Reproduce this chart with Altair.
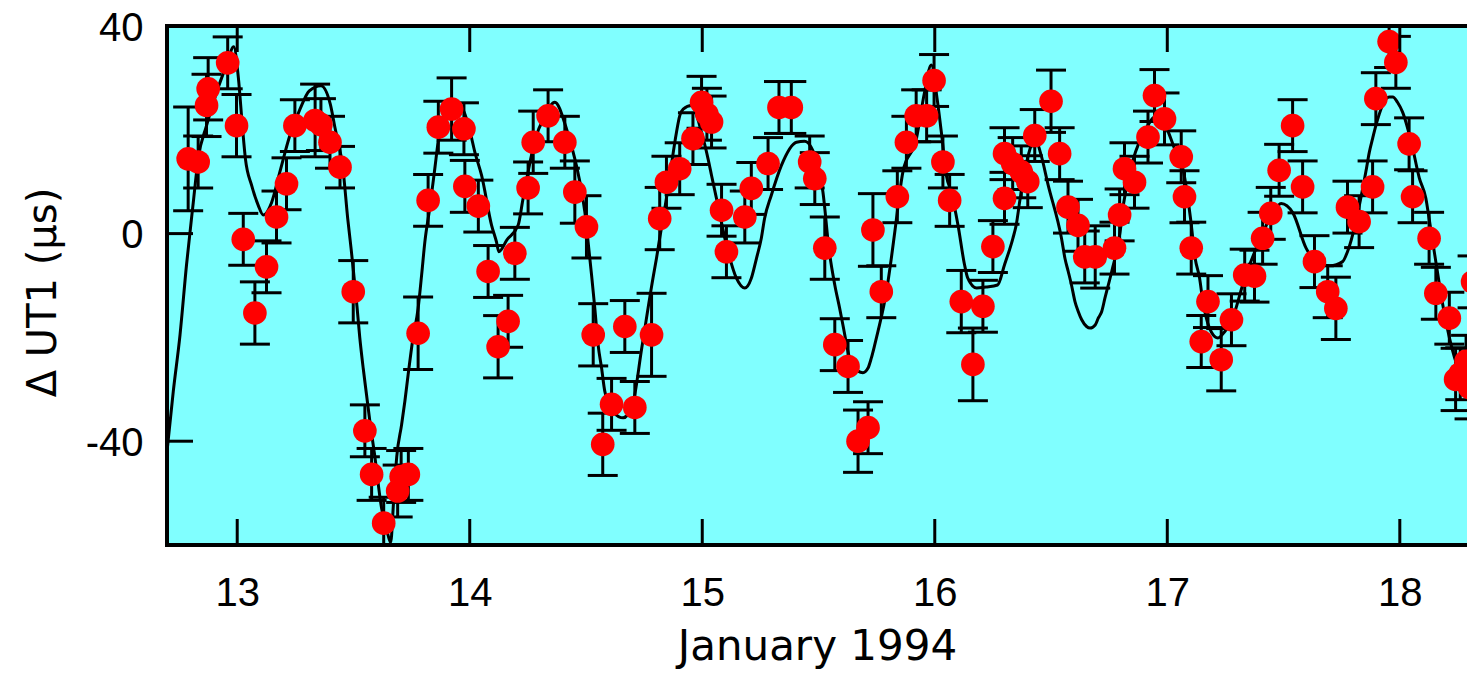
import altair as alt
import pandas as pd

# ---- observed UT1 residuals (day of January 1994, microseconds, 1-sigma) ----
obs_day = [12.789, 12.832, 12.868, 12.875, 12.959, 12.997, 13.026, 13.076, 13.126, 13.169,
           13.212, 13.248, 13.335, 13.360, 13.399, 13.442, 13.499, 13.549, 13.578, 13.630,
           13.690, 13.705, 13.736, 13.778, 13.821, 13.865, 13.922, 13.975, 13.979, 14.037,
           14.079, 14.122, 14.165, 14.194, 14.251, 14.273, 14.337, 14.409, 14.452, 14.502,
           14.531, 14.572, 14.610, 14.667, 14.710, 14.782, 14.817, 14.846, 14.903, 14.960,
           14.997, 15.020, 15.040, 15.083, 15.104, 15.183, 15.211, 15.283, 15.330, 15.383,
           15.462, 15.484, 15.527, 15.570, 15.627, 15.670, 15.713, 15.734, 15.770, 15.839,
           15.878, 15.920, 15.965, 15.997, 16.035, 16.064, 16.114, 16.164, 16.207, 16.250,
           16.300, 16.300, 16.335, 16.372, 16.400, 16.430, 16.500, 16.537, 16.573, 16.616,
           16.645, 16.690, 16.773, 16.795, 16.816, 16.859, 16.917, 16.945, 16.988, 17.060,
           17.074, 17.103, 17.175, 17.146, 17.232, 17.276, 17.333, 17.375, 17.410, 17.445,
           17.481, 17.539, 17.582, 17.633, 17.690, 17.725, 17.775, 17.825, 17.883, 17.897,
           17.954, 17.983, 18.040, 18.055, 18.126, 18.155, 18.213, 18.240, 18.260, 18.285,
           18.300, 18.313]
obs_ut1 = [14.4, 13.8, 24.7, 27.9, 32.9, 20.8, -1.1, -15.3, -6.4, 3.2,
           9.6, 20.8, 21.8, 21.0, 17.6, 12.8, -11.2, -38.0, -46.4, -55.8,
           -49.6, -46.8, -46.4, -19.2, 6.4, 20.5, 24.0, 20.2, 9.1, 5.3,
           -7.3, -21.8, -16.9, -3.8, 8.8, 17.6, 22.7, 17.6, 8.0, 1.3,
           -19.5, -40.6, -32.9, -17.9, -33.5, -19.5, 2.9, 9.9, 12.5, 18.3,
           25.3, 23.0, 21.5, 4.5, -3.5, 3.2, 8.7, 13.5, 24.3, 24.3,
           13.8, 10.6, -2.8, -21.4, -25.6, -40.0, -37.4, 0.7, -11.2, 7.1,
           17.6, 22.7, 22.7, 29.5, 13.8, 6.4, -13.1, -25.2, -14.0, -2.5,
           15.4, 6.8, 13.5, 11.9, 10.0, 18.9, 25.5, 15.4, 5.1, 1.6,
           -4.5, -4.5, -2.8, 3.6, 12.5, 9.9, 18.6, 26.6, 22.1, 14.8,
           7.1, -2.8, -13.1, -20.8, -24.3, -16.6, -8.0, -8.2, -0.9, 3.9,
           12.2, 20.8, 9.0, -5.4, -11.2, -14.4, 5.1, 2.3, 9.0, 26.0,
           37.0, 33.0, 17.3, 7.1, -0.9, -11.5, -16.3, -28.1, -27.0, -24.6,
           -29.7, -9.3]
obs_err = [10, 5, 6, 6, 5, 6, 5, 6, 5, 5,
           5, 5, 7, 5, 5, 4, 6, 5, 5, 5,
           5, 5, 5, 7, 5, 5, 6, 5, 5, 5,
           5, 6, 5, 5, 5, 6, 5, 5, 6, 6,
           6, 6, 5, 5, 5, 8, 6, 5, 5, 5,
           5, 5, 5, 5, 5, 5, 5, 5, 5, 5,
           5, 5, 6, 5, 5, 6, 5, 7, 5, 5,
           5, 5, 5, 5, 5, 5, 6, 7, 5, 5,
           5, 5, 5, 5, 5, 5, 6, 5, 5, 5,
           5, 6, 5, 5, 5, 5, 5, 5, 5, 5,
           5, 5, 5, 5, 6, 5, 5, 5, 5, 5,
           5, 5, 5, 5, 5, 6, 5, 5, 5, 5,
           5, 5, 5, 5, 5, 5, 5, 6, 5, 5,
           6, 5]

# ---- tidal model curve ----
model_day = [12.698, 12.725, 12.754, 12.782, 12.811, 12.832, 12.868, 12.911, 12.954, 12.985,
             13.005, 13.022, 13.035, 13.062, 13.090, 13.112, 13.148, 13.184, 13.227, 13.270,
             13.310, 13.360, 13.400, 13.420, 13.456, 13.475, 13.490, 13.500, 13.515, 13.527,
             13.542, 13.556, 13.570, 13.592, 13.620, 13.648, 13.660, 13.672, 13.686, 13.707,
             13.721, 13.735, 13.755, 13.778, 13.793, 13.807, 13.828, 13.850, 13.864, 13.893,
             13.936, 13.975, 14.000, 14.022, 14.051, 14.094, 14.115, 14.125, 14.160, 14.208,
             14.228, 14.251, 14.280, 14.323, 14.366, 14.416, 14.452, 14.495, 14.509, 14.524,
             14.538, 14.552, 14.567, 14.581, 14.620, 14.660, 14.700, 14.740, 14.788, 14.803,
             14.817, 14.846, 14.860, 14.889, 14.903, 14.918, 14.954, 14.997, 15.025, 15.040,
             15.061, 15.111, 15.147, 15.183, 15.211, 15.233, 15.254, 15.268, 15.297, 15.340,
             15.405, 15.440, 15.498, 15.519, 15.545, 15.570, 15.591, 15.605, 15.634, 15.670,
             15.691, 15.713, 15.727, 15.742, 15.756, 15.792, 15.813, 15.828, 15.863, 15.921,
             15.955, 15.985, 16.010, 16.030, 16.050, 16.071, 16.100, 16.128, 16.142, 16.180,
             16.220, 16.270, 16.300, 16.336, 16.350, 16.366, 16.388, 16.415, 16.435, 16.455,
             16.488, 16.545, 16.560, 16.574, 16.588, 16.603, 16.617, 16.632, 16.653, 16.668,
             16.690, 16.703, 16.718, 16.732, 16.761, 16.797, 16.811, 16.854, 16.905, 16.950,
             16.990, 17.030, 17.070, 17.100, 17.120, 17.139, 17.153, 17.168, 17.190, 17.218,
             17.245, 17.276, 17.333, 17.398, 17.449, 17.490, 17.540, 17.597, 17.650, 17.700,
             17.754, 17.775, 17.854, 17.869, 17.883, 17.897, 17.954, 17.970, 17.990, 18.012,
             18.050, 18.084, 18.112, 18.126, 18.150, 18.190, 18.236, 18.280, 18.324]
model_ut1 = [-42.0, -30.4, -19.5, -6.0, 6.0, 14.4, 20.8, 27.2, 32.5, 36.0,
             30.0, 20.8, 14.5, 9.3, 5.5, 3.6, 6.0, 12.0, 19.0, 24.0,
             27.5, 28.5, 25.0, 20.5, 12.0, 3.0, -3.0, -7.3, -14.0, -20.0,
             -26.0, -31.0, -36.0, -43.0, -52.7, -58.0, -59.5, -52.0, -43.0, -36.8,
             -32.3, -27.2, -20.4, -14.4, -8.0, -1.6, 4.9, 12.6, 17.6, 22.7,
             25.6, 23.5, 19.9, 15.7, 11.2, 1.6, -1.6, -3.5, -1.2, 1.6,
             6.4, 11.9, 17.9, 22.7, 25.3, 20.2, 14.4, 4.2, -1.6, -8.0,
             -14.4, -21.4, -25.9, -30.4, -34.5, -35.5, -33.0, -22.0, -8.6, -4.8,
             -0.9, 6.8, 11.0, 19.5, 22.7, 24.0, 24.7, 19.5, 14.4, 11.2,
             6.8, -3.5, -8.6, -10.5, -8.6, -4.8, -0.9, 2.9, 7.4, 13.1,
             17.6, 17.8, 13.1, 8.0, -3.0, -9.9, -14.4, -17.6, -24.0, -26.5,
             -26.8, -25.9, -24.0, -21.4, -18.8, -11.2, -4.8, 0.3, 11.9, 18.3,
             27.0, 32.5, 26.0, 18.9, 11.2, 8.0, 1.6, -6.0, -8.6, -10.5,
             -10.3, -9.9, -6.0, -0.9, 1.6, 6.4, 12.2, 17.0, 18.0, 15.5,
             9.3, -0.9, -4.8, -7.3, -9.9, -13.1, -15.0, -16.6, -17.9, -18.2,
             -17.6, -16.3, -15.0, -12.4, -7.3, 0.3, 5.5, 14.4, 19.9, 22.5,
             21.0, 16.5, 11.9, 2.9, -4.8, -8.6, -13.1, -16.3, -19.0, -20.1,
             -19.0, -16.9, -8.6, -1.2, 3.6, 5.8, 4.0, -2.8, -5.8, -6.2,
             -5.4, -3.5, 11.9, 15.7, 18.3, 20.8, 26.3, 26.3, 25.3, 23.4,
             17.5, 10.7, 6.8, 2.9, -4.0, -15.0, -24.0, -29.0, -32.0]

x_ticks = [13, 14, 15, 16, 17, 18]
y_ticks = [-40, 0, 40]

X_DOMAIN = [12.698, 18.289]
Y_DOMAIN = [-60, 40]
W, H = 1300, 519
TICK = 26

obs = pd.DataFrame({"day": obs_day, "ut1": obs_ut1, "err": obs_err})
obs["lo"] = obs["ut1"] - obs["err"]
obs["hi"] = obs["ut1"] + obs["err"]
model = pd.DataFrame({"day": model_day, "ut1": model_ut1})
xt = pd.DataFrame({"day": x_ticks})
yt = pd.DataFrame({"ut1": y_ticks})
one = pd.DataFrame({"k": [0]})

xscale = alt.Scale(domain=X_DOMAIN, nice=False, zero=False)
yscale = alt.Scale(domain=Y_DOMAIN, nice=False, zero=False)

xaxis = alt.Axis(values=x_ticks, title="January 1994", ticks=False, tickSize=0, domain=False,
                 grid=False, labelFont="Liberation Sans", labelFontSize=40, labelColor="black",
                 labelPadding=60, labelBaseline="alphabetic", labelFlush=False,
                 labelOverlap=False, labelExpr="'' + datum.value",
                 titleFont="DejaVu Sans", titleFontSize=42, titleFontWeight="normal",
                 titleColor="black", titleY=114, titleBaseline="alphabetic")
yaxis = alt.Axis(values=y_ticks, title="Δ UT1 (µs)", ticks=False, tickSize=0, domain=False,
                 grid=False, labelFont="Liberation Sans", labelFontSize=40, labelColor="black",
                 labelPadding=24, labelBaseline="middle", labelFlush=False, labelOffset=2,
                 labelOverlap=False, labelExpr="'' + datum.value",
                 titleFont="DejaVu Sans", titleFontSize=40, titleFontWeight="normal",
                 titleColor="black", titleAngle=270, titleX=-124, titleY=266,
                 titleAlign="center", titleBaseline="middle")

X = alt.X("day:Q", scale=xscale, axis=xaxis)
Y = alt.Y("ut1:Q", scale=yscale, axis=yaxis)

curve = alt.Chart(model).mark_line(color="black", strokeWidth=3, interpolate="monotone",
                                   clip=True).encode(x=X, y=Y)

bars = alt.Chart(obs).mark_rule(color="black", strokeWidth=3, clip=True).encode(
    x=X, y=alt.Y("lo:Q", scale=yscale, axis=yaxis), y2="hi:Q")
cap_lo = alt.Chart(obs).mark_tick(color="black", orient="horizontal", size=30, thickness=3,
                                  opacity=1, clip=True).encode(
    x=X, y=alt.Y("lo:Q", scale=yscale, axis=yaxis))
cap_hi = alt.Chart(obs).mark_tick(color="black", orient="horizontal", size=30, thickness=3,
                                  opacity=1, clip=True).encode(
    x=X, y=alt.Y("hi:Q", scale=yscale, axis=yaxis))
points = alt.Chart(obs).mark_circle(color="#ff0000", size=560, opacity=1, clip=True).encode(
    x=X, y=Y)

tick_bottom = alt.Chart(xt).mark_rule(color="black", strokeWidth=3).encode(
    x=X, y=alt.value(H), y2=alt.value(H - TICK))
tick_top = alt.Chart(xt).mark_rule(color="black", strokeWidth=3).encode(
    x=X, y=alt.value(0), y2=alt.value(TICK))
tick_left = alt.Chart(yt).mark_rule(color="black", strokeWidth=3).encode(
    y=Y, x=alt.value(0), x2=alt.value(TICK))

frame_top = alt.Chart(one).mark_rule(color="black", strokeWidth=4, strokeCap="square").encode(
    x=alt.value(0), x2=alt.value(W + 10), y=alt.value(0))
frame_bottom = alt.Chart(one).mark_rule(color="black", strokeWidth=4, strokeCap="square").encode(
    x=alt.value(0), x2=alt.value(W + 10), y=alt.value(H))
frame_left = alt.Chart(one).mark_rule(color="black", strokeWidth=4, strokeCap="square").encode(
    x=alt.value(0), y=alt.value(0), y2=alt.value(H))

chart = alt.layer(
    curve, bars, cap_lo, cap_hi, points,
    tick_bottom, tick_top, tick_left,
    frame_top, frame_bottom, frame_left,
).properties(
    width=W, height=H,
    padding={"left": 159, "top": 18, "right": 0, "bottom": 124},
    autosize=alt.AutoSizeParams(type="none"),
    background="white",
).configure_view(fill="#80ffff", strokeWidth=0)

chart.save("out.html", embed_options={"renderer": "svg", "actions": False})
